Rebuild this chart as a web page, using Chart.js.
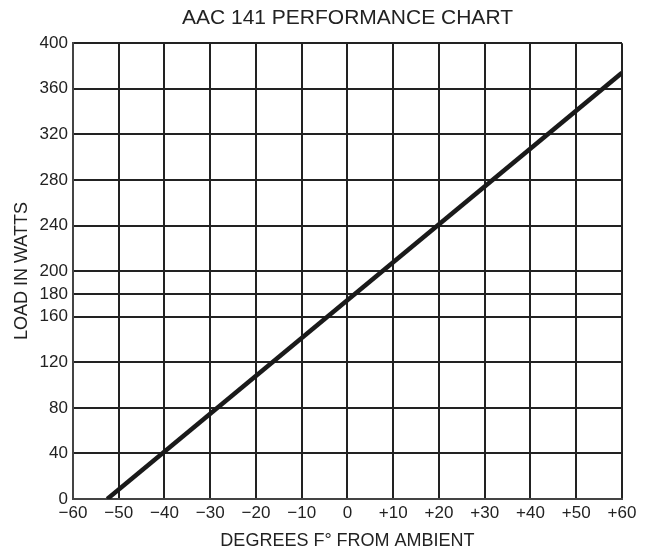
<!DOCTYPE html>
<html>
<head>
<meta charset="utf-8">
<script src="https://cdn.jsdelivr.net/npm/chart.js@4.4.1/dist/chart.umd.min.js"></script>
<style>
  html, body { margin: 0; padding: 0; background: #fff; }
  #wrap { width: 651px; height: 552px; }
</style>
</head>
<body>
<div id="wrap"><canvas id="perf"></canvas></div>
<script>
// degrees F from ambient vs load in watts
const tempDelta = [-52.5, 60];
const loadWatts = [0, 374];

const xTicks = [-60, -50, -40, -30, -20, -10, 0, 10, 20, 30, 40, 50, 60];
const yTicks = [0, 40, 80, 120, 160, 180, 200, 240, 280, 320, 360, 400];

const ink = '#222';
const font = 'Liberation Sans';

const points = tempDelta.map((t, i) => ({ x: t, y: loadWatts[i] }));

new Chart(document.getElementById('perf'), {
    type: 'scatter',
    data: {
        datasets: [{
            data: points,
            showLine: true,
            borderColor: '#1a1a1a',
            borderWidth: 4.5,
            pointRadius: 0,
            borderCapStyle: 'butt'
        }]
    },
    options: {
        responsive: true,
        maintainAspectRatio: false,
        animation: false,
        layout: {
            padding: { left: 11, right: 29, top: 0, bottom: 0 }
        },
        plugins: {
            legend: { display: false },
            tooltip: { enabled: false },
            title: {
                display: true,
                text: 'AAC 141 PERFORMANCE CHART',
                fullSize: false,
                color: ink,
                font: { family: font, size: 21, weight: 'normal' },
                padding: { top: 6, bottom: 12 }
            }
        },
        scales: {
            x: {
                type: 'linear',
                min: -60,
                max: 60,
                afterBuildTicks: axis => { axis.ticks = xTicks.map(v => ({ value: v })); },
                ticks: {
                    color: ink,
                    font: { family: font, size: 17 },
                    padding: 4,
                    maxRotation: 0,
                    autoSkip: false,
                    callback: v => v > 0 ? '+' + v : (v < 0 ? '\u2212' + Math.abs(v) : '0')
                },
                grid: { color: ink, lineWidth: 2, drawTicks: false },
                border: { color: '#444', width: 2 },
                title: {
                    display: true,
                    text: 'DEGREES F\u00b0 FROM AMBIENT',
                    color: ink,
                    font: { family: font, size: 18 },
                    padding: { top: 3, bottom: 0 }
                }
            },
            y: {
                type: 'linear',
                min: 0,
                max: 400,
                afterBuildTicks: axis => { axis.ticks = yTicks.map(v => ({ value: v })); },
                ticks: {
                    color: ink,
                    font: { family: font, size: 17 },
                    padding: 5,
                    autoSkip: false
                },
                grid: { color: ink, lineWidth: 2, drawTicks: false },
                border: { color: '#444', width: 2 },
                title: {
                    display: true,
                    text: 'LOAD IN WATTS',
                    color: ink,
                    font: { family: font, size: 18 },
                    padding: { top: 0, bottom: 2 }
                }
            }
        }
    }
});
</script>
</body>
</html>
